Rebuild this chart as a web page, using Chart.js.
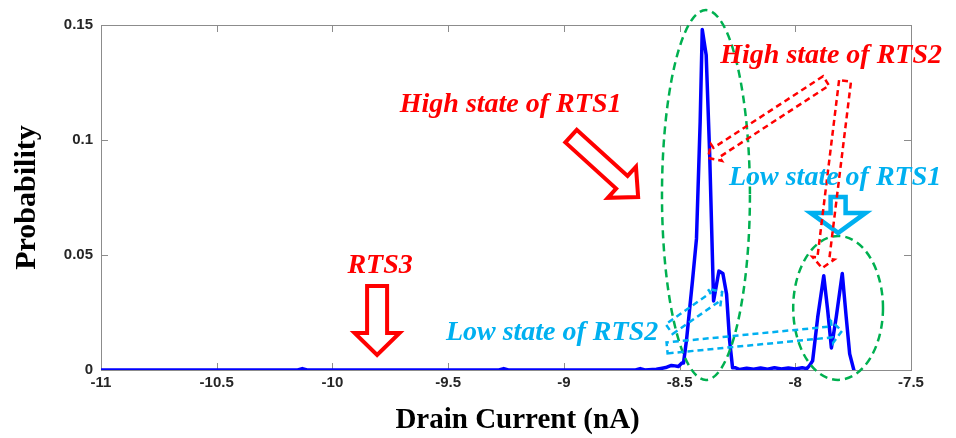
<!DOCTYPE html>
<html>
<head>
<meta charset="utf-8">
<script src="https://cdn.jsdelivr.net/npm/chart.js@4.4.1/dist/chart.umd.min.js"></script>
<style>
  html, body { margin: 0; padding: 0; background: #fff; }
  #wrap { width: 956px; height: 438px; }
</style>
</head>
<body>
<div id="wrap"><canvas id="rtsChart" width="956" height="438"></canvas></div>
<script>
// histogram of drain current
const currentNA = [
  -11.00, -10.15, -10.13, -10.11, -9.28, -9.26, -9.24, -8.69, -8.67, -8.65,
  -8.60, -8.575, -8.555, -8.535, -8.52, -8.505, -8.49, -8.483, -8.470, -8.444,
  -8.427, -8.411, -8.402, -8.385, -8.370, -8.353, -8.330, -8.313, -8.297, -8.284,
  -8.271, -8.26, -8.24, -8.21, -8.18, -8.15, -8.12, -8.09, -8.06, -8.03,
  -8.00, -7.97, -7.95, -7.938, -7.925, -7.903, -7.877, -7.860, -7.844, -7.823,
  -7.797, -7.780, -7.765, -7.747
];
const probability = [
  0, 0, 0.0006, 0, 0, 0.0006, 0, 0, 0.0006, 0,
  0.0003, 0.0008, 0.0012, 0.002, 0.0018, 0.0015, 0.003, 0.003, 0.013, 0.039,
  0.057, 0.108, 0.148, 0.137, 0.094, 0.030, 0.043, 0.042, 0.033, 0.013,
  0.001, 0.0010, 0.0002, 0.0008, 0.0003, 0.0009, 0.0003, 0.0010, 0.0004, 0.0009,
  0.0004, 0.0010, 0.0006, 0.002, 0.004, 0.023, 0.041, 0.026, 0.0096, 0.023,
  0.042, 0.023, 0.007, 0
];

const xTickValues = [-11, -10.5, -10, -9.5, -9, -8.5, -8, -7.5];
const xTickLabels = ['-11', '-10.5', '-10', '-9.5', '-9', '-8.5', '-8', '-7.5'];
const yTickValues = [0, 0.05, 0.1, 0.15];
const yTickLabels = ['0', '0.05', '0.1', '0.15'];

const RED = '#ff0000';
const CYAN = '#00b0f0';
const GREEN = '#00b050';

// annotations, placed in data units
const notes = [
  { text: 'High state of RTS1', x: -9.23, y: 0.1122, color: RED },
  { text: 'RTS3', x: -9.794, y: 0.0422, color: RED },
  { text: 'High state of RTS2', x: -7.845, y: 0.1335, color: RED },
  { text: 'Low state of RTS1', x: -7.828, y: 0.0804, color: CYAN },
  { text: 'Low state of RTS2', x: -9.051, y: 0.013, color: CYAN }
];

const arrows = [
  { from: [-8.969, 0.1017], to: [-8.679, 0.0752], shaft: 17, head: 42, headLen: 22, color: RED, width: 4, dashed: false },
  { from: [-9.807, 0.0365], to: [-9.807, 0.0065], shaft: 20, head: 45, headLen: 22, color: RED, width: 4, dashed: false },
  { from: [-7.815, 0.0752], to: [-7.815, 0.0596], shaft: 15, head: 55, headLen: 20, color: CYAN, width: 4.5, dashed: false },
  { from: [-7.867, 0.1257], to: [-8.377, 0.0922], shaft: 11, head: 20, headLen: 10, color: RED, width: 2.5, dashed: true },
  { from: [-7.785, 0.1257], to: [-7.884, 0.0443], shaft: 12, head: 22, headLen: 10, color: RED, width: 2.5, dashed: true },
  { from: [-8.545, 0.0178], to: [-8.316, 0.0339], shaft: 12, head: 22, headLen: 10, color: CYAN, width: 2.5, dashed: true },
  { from: [-8.554, 0.0096], to: [-7.798, 0.0170], shaft: 11, head: 22, headLen: 10, color: CYAN, width: 2.5, dashed: true }
];

const ellipses = [
  { x: -8.386, y: 0.0761, rx: 0.19, ry: 0.0804 },
  { x: -7.815, y: 0.027, rx: 0.194, ry: 0.0313 }
];

const xTitle = { text: 'Drain Current (nA)', x: -9.2, y: -0.0218 };

function blockArrow(ctx, tx, ty, px, py, shaft, head, headLen) {
  const len = Math.hypot(px - tx, py - ty);
  const ux = (px - tx) / len, uy = (py - ty) / len;
  const nx = -uy, ny = ux;
  const bx = px - ux * headLen, by = py - uy * headLen;
  const s = shaft / 2, h = head / 2;
  ctx.beginPath();
  ctx.moveTo(tx + nx * s, ty + ny * s);
  ctx.lineTo(bx + nx * s, by + ny * s);
  ctx.lineTo(bx + nx * h, by + ny * h);
  ctx.lineTo(px, py);
  ctx.lineTo(bx - nx * h, by - ny * h);
  ctx.lineTo(bx - nx * s, by - ny * s);
  ctx.lineTo(tx - nx * s, ty - ny * s);
  ctx.closePath();
  ctx.stroke();
}

const overlay = {
  id: 'overlay',
  beforeDatasetsDraw(chart) {
    const { ctx, chartArea: a, scales: { x, y } } = chart;
    ctx.save();
    ctx.strokeStyle = '#8c8c8c';
    ctx.lineWidth = 1;
    ctx.strokeRect(a.left + 0.5, a.top + 0.5, a.right - a.left, a.bottom - a.top);
    ctx.beginPath();
    xTickValues.forEach(v => {
      const p = Math.round(x.getPixelForValue(v)) + 0.5;
      ctx.moveTo(p, a.bottom); ctx.lineTo(p, a.bottom - 7);
      ctx.moveTo(p, a.top); ctx.lineTo(p, a.top + 7);
    });
    yTickValues.forEach(v => {
      const p = Math.round(y.getPixelForValue(v)) + 0.5;
      ctx.moveTo(a.left, p); ctx.lineTo(a.left + 7, p);
      ctx.moveTo(a.right, p); ctx.lineTo(a.right - 7, p);
    });
    ctx.stroke();
    // x axis title
    ctx.fillStyle = '#000';
    ctx.font = 'bold 29px "Liberation Serif", "Times New Roman", serif';
    ctx.textAlign = 'center';
    ctx.textBaseline = 'middle';
    ctx.fillText(xTitle.text, x.getPixelForValue(xTitle.x), y.getPixelForValue(xTitle.y));
    ctx.restore();
  },
  afterDatasetsDraw(chart) {
    const { ctx, scales: { x, y } } = chart;
    ctx.save();
    // green dashed ellipses
    ctx.strokeStyle = GREEN;
    ctx.lineWidth = 2.5;
    ctx.setLineDash([8, 5]);
    ellipses.forEach(e => {
      const cx = x.getPixelForValue(e.x), cy = y.getPixelForValue(e.y);
      const rx = Math.abs(x.getPixelForValue(e.x + e.rx) - cx);
      const ry = Math.abs(y.getPixelForValue(e.y + e.ry) - cy);
      ctx.beginPath();
      ctx.ellipse(cx, cy, rx, ry, 0, 0, Math.PI * 2);
      ctx.stroke();
    });
    // arrows
    arrows.forEach(ar => {
      ctx.strokeStyle = ar.color;
      ctx.lineWidth = ar.width;
      ctx.lineJoin = 'miter';
      ctx.setLineDash(ar.dashed ? [6, 4] : []);
      blockArrow(ctx,
        x.getPixelForValue(ar.from[0]), y.getPixelForValue(ar.from[1]),
        x.getPixelForValue(ar.to[0]), y.getPixelForValue(ar.to[1]),
        ar.shaft, ar.head, ar.headLen);
    });
    ctx.setLineDash([]);
    // labels
    ctx.font = 'italic bold 28px "Liberation Serif", "Times New Roman", serif';
    ctx.textAlign = 'center';
    ctx.textBaseline = 'alphabetic';
    notes.forEach(n => {
      ctx.fillStyle = n.color;
      ctx.fillText(n.text, x.getPixelForValue(n.x), y.getPixelForValue(n.y));
    });
    ctx.restore();
  }
};

const tickFont = { family: '"Liberation Sans", Arial, sans-serif', size: 15, weight: 'bold' };
const titleFont = { family: '"Liberation Serif", "Times New Roman", serif', size: 30, weight: 'bold', lineHeight: 1 };

new Chart(document.getElementById('rtsChart').getContext('2d'), {
  type: 'line',
  data: {
    datasets: [{
      label: 'Probability',
      data: currentNA.map((c, i) => ({ x: c, y: probability[i] })),
      borderColor: '#0000ff',
      borderWidth: 3.5,
      borderJoinStyle: 'round',
      borderCapStyle: 'round',
      pointRadius: 0,
      tension: 0,
      fill: false
    }]
  },
  options: {
    responsive: false,
    animation: false,
    devicePixelRatio: 1,
    layout: { padding: { top: 25, right: 45, left: 0, bottom: 0 } },
    plugins: { legend: { display: false }, tooltip: { enabled: false } },
    scales: {
      x: {
        type: 'linear',
        min: -11,
        max: -7.5,
        afterBuildTicks: s => { s.ticks = xTickValues.map(v => ({ value: v })); },
        afterFit: s => { s.height = 68; },
        grid: { display: false, drawTicks: false },
        border: { display: false },
        ticks: {
          font: tickFont, color: '#262626', padding: 4, maxRotation: 0, autoSkip: false,
          callback: (v, i) => xTickLabels[i]
        }
      },
      y: {
        min: 0,
        max: 0.15,
        afterBuildTicks: s => { s.ticks = yTickValues.map(v => ({ value: v })); },
        afterFit: s => { s.width = 101; },
        grid: { display: false, drawTicks: false },
        border: { display: false },
        ticks: {
          font: tickFont, color: '#262626', padding: 8,
          callback: (v, i) => yTickLabels[i]
        },
        title: { display: true, text: 'Probability', color: '#000', font: titleFont, padding: { top: 12, bottom: 0 } }
      }
    }
  },
  plugins: [overlay]
});
</script>
</body>
</html>
